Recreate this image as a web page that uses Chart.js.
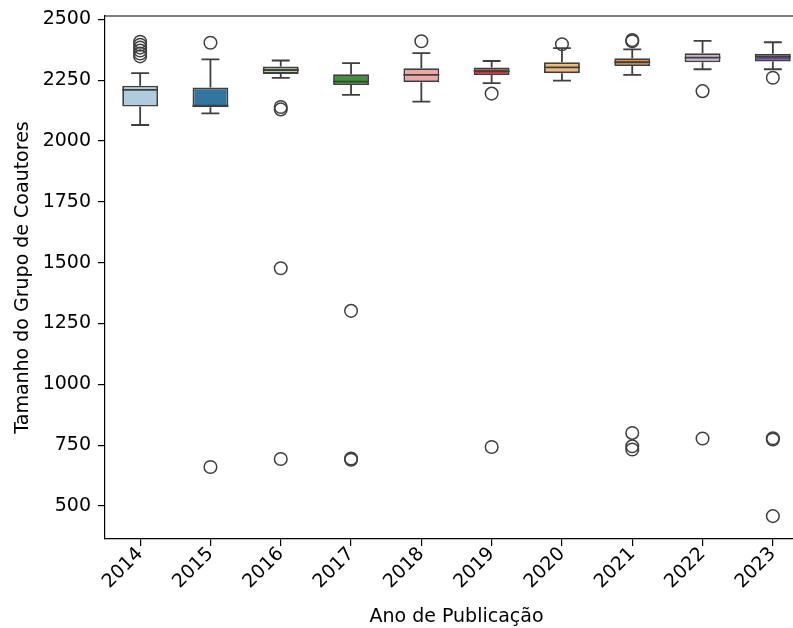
<!DOCTYPE html>
<html>
<head>
<meta charset="utf-8">
<script src="https://cdn.jsdelivr.net/npm/chart.js@4"></script>
<style>
  html, body { margin: 0; padding: 0; background: #fff; overflow: hidden; width: 793px; height: 628px; }
  #wrap { width: 808px; height: 628px; }
</style>
</head>
<body>
<div id="wrap"><canvas id="grafico" width="808" height="628"></canvas></div>
<script>
// Categorías (años) y estadísticas de cada caja
const years = ['2014', '2015', '2016', '2017', '2018', '2019', '2020', '2021', '2022', '2023'];
const whiskerHigh = [2279, 2336, 2331, 2320, 2361, 2329, 2382, 2377, 2412, 2406];
const q3 = [2227, 2220, 2306, 2275, 2299, 2302, 2324, 2340, 2361, 2359];
const median = [2210, 2145, 2292, 2244, 2272, 2287, 2303, 2324, 2343, 2347];
const q1 = [2142, 2139, 2276, 2230, 2242, 2271, 2279, 2308, 2324, 2327];
const whiskerLow = [2066, 2114, 2260, 2190, 2162, 2238, 2248, 2272, 2295, 2295];
// Valores atípicos por año
const outliers = [
    [2408, 2396, 2384, 2372, 2360, 2348],
    [2404, 660],
    [2140, 2130, 1477, 693],
    [1302, 695, 690],
    [2410],
    [2195, 742],
    [2398],
    [2415, 2410, 800, 745, 732],
    [2205, 777],
    [2260, 778, 773, 458]
];
const yTicks = [500, 750, 1000, 1250, 1500, 1750, 2000, 2250, 2500];
const boxColors = ['#aeccdb', '#3275a1', '#b3d495', '#40923b', '#efa6a5',
                   '#ca3335', '#ebbd81', '#df7f20', '#c9b7d2', '#6b498f'];

const lineColor = '#3f3f3f';
const fontFamily = '"DejaVu Sans", sans-serif';
const fontSize = 19;

// Plugin para bigotes, medianas y el borde superior
const boxPlugin = {
    id: 'boxPlugin',
    beforeDatasetsDraw(chart) {
        const ctx = chart.ctx;
        const yScale = chart.scales.y;
        const meta = chart.getDatasetMeta(0);
        ctx.save();
        ctx.strokeStyle = lineColor;
        ctx.lineWidth = 1.8;
        meta.data.forEach((bar, i) => {
            const x = bar.x;
            const capHalf = bar.width / 4;
            const yHi = yScale.getPixelForValue(whiskerHigh[i]);
            const yLo = yScale.getPixelForValue(whiskerLow[i]);
            const yQ3 = yScale.getPixelForValue(q3[i]);
            const yQ1 = yScale.getPixelForValue(q1[i]);
            ctx.beginPath();
            ctx.moveTo(x, yQ3); ctx.lineTo(x, yHi);
            ctx.moveTo(x - capHalf, yHi); ctx.lineTo(x + capHalf, yHi);
            ctx.moveTo(x, yQ1); ctx.lineTo(x, yLo);
            ctx.moveTo(x - capHalf, yLo); ctx.lineTo(x + capHalf, yLo);
            ctx.stroke();
        });
        ctx.restore();
    },
    afterDatasetsDraw(chart) {
        const ctx = chart.ctx;
        const yScale = chart.scales.y;
        const meta = chart.getDatasetMeta(0);
        ctx.save();
        ctx.strokeStyle = lineColor;
        ctx.lineWidth = 1.8;
        meta.data.forEach((bar, i) => {
            const half = bar.width / 2;
            const yM = yScale.getPixelForValue(median[i]);
            ctx.beginPath();
            ctx.moveTo(bar.x - half, yM);
            ctx.lineTo(bar.x + half, yM);
            ctx.stroke();
        });
        // Borde superior del área
        const a = chart.chartArea;
        ctx.strokeStyle = '#000';
        ctx.lineWidth = 1.2;
        ctx.beginPath();
        ctx.moveTo(a.left, a.top);
        ctx.lineTo(a.right, a.top);
        ctx.stroke();
        ctx.restore();
    }
};

const outlierPoints = [];
outliers.forEach((list, i) => {
    list.forEach(v => outlierPoints.push({ x: i, y: v }));
});

new Chart(document.getElementById('grafico'), {
    type: 'bar',
    data: {
        datasets: [
            {
                label: 'Caja',
                data: years.map((y, i) => ({ x: i, y: [q1[i], q3[i]] })),
                backgroundColor: boxColors,
                borderColor: lineColor,
                borderWidth: 1.8,
                borderSkipped: false,
                barPercentage: 0.51,
                categoryPercentage: 1.0,
                order: 2
            },
            {
                label: 'Atípicos',
                type: 'scatter',
                data: outlierPoints,
                pointRadius: 6.3,
                pointBorderWidth: 1.5,
                pointBorderColor: lineColor,
                pointBackgroundColor: 'rgba(0,0,0,0)',
                order: 1
            }
        ]
    },
    options: {
        responsive: false,
        animation: false,
        layout: { autoPadding: false, padding: { top: 16, right: 0, left: 0, bottom: 0 } },
        plugins: {
            legend: { display: false },
            tooltip: { enabled: false }
        },
        scales: {
            x: {
                type: 'linear',
                offset: false,
                min: -0.5,
                max: 9.5,
                grid: { display: true, offset: false, drawOnChartArea: false, drawTicks: true, tickLength: 7, color: '#000', lineWidth: 1.2 },
                border: { display: true, color: '#000', width: 1.2 },
                afterBuildTicks(scale) { scale.ticks = years.map((y, i) => ({ value: i })); },
                ticks: {
                    color: '#000',
                    font: { family: fontFamily, size: fontSize },
                    minRotation: 45,
                    maxRotation: 45,
                    autoSkip: false,
                    padding: -3,
                    callback: (v) => years[v]
                },
                title: {
                    display: true,
                    text: 'Ano de Publicação',
                    color: '#000',
                    font: { family: fontFamily, size: fontSize },
                    padding: { top: 0, bottom: 0 }
                },
                afterFit(scale) {
                    scale.height = 89;
                    scale.paddingLeft = 0;
                    scale.paddingRight = 0;
                }
            },
            y: {
                min: 364,
                max: 2514,
                grid: { display: true, drawOnChartArea: false, drawTicks: true, tickLength: 7, color: '#000', lineWidth: 1.2 },
                border: { display: true, color: '#000', width: 1.2 },
                afterBuildTicks(scale) { scale.ticks = yTicks.map(v => ({ value: v })); },
                ticks: {
                    color: '#000',
                    font: { family: fontFamily, size: fontSize },
                    padding: 7,
                    callback: (v) => String(v)
                },
                title: {
                    display: true,
                    text: 'Tamanho do Grupo de Coautores',
                    color: '#000',
                    font: { family: fontFamily, size: fontSize },
                    padding: { top: 12, bottom: 0 }
                },
                afterFit(scale) {
                    scale.width = 105;
                    scale.paddingTop = 0;
                    scale.paddingBottom = 0;
                }
            }
        }
    },
    plugins: [boxPlugin]
});
</script>
</body>
</html>
